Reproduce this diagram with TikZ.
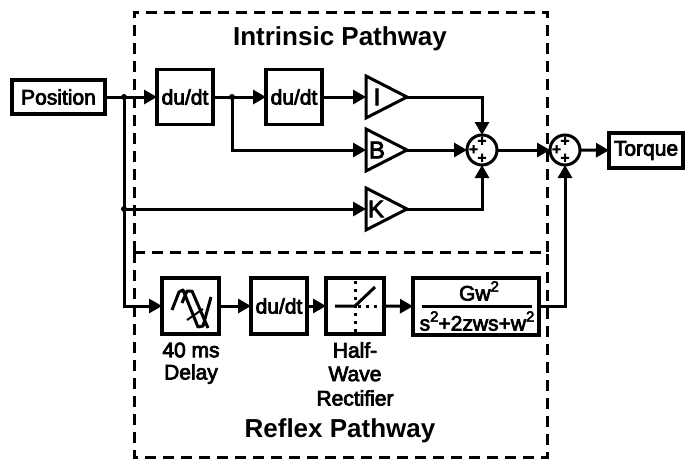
\documentclass[tikz,border=0pt]{standalone}
\usepackage{fontspec}
\setmainfont{Liberation Sans}
\newfontfamily\fbold[FakeBold=3.5]{Liberation Sans}
\newfontfamily\plusf[FakeBold=6]{Liberation Sans}
\usetikzlibrary{arrows.meta}
\newcommand{\txtA}{\fontsize{21}{24}\selectfont\fbold}
\newcommand{\txtC}{\fontsize{24}{24}\selectfont\fbold}
\newcommand{\txtB}{\fontsize{26}{30}\selectfont\bfseries}
\newcommand{\suptwo}{\raisebox{.42em}{\fontsize{15}{15}\selectfont 2}}
\tikzset{
  blockbox/.style={draw=black,line width=3.2pt,fill=white,inner sep=0pt,outer sep=0pt,font=\txtA,align=center},
  wire/.style={draw=black,line width=3pt,-{Triangle[length=13pt,width=14pt]}},
  plainwire/.style={draw=black,line width=3pt},
  gaintri/.style={draw=black,line width=3pt,fill=white,line join=miter},
  dashbox/.style={draw=black,line width=3pt,dash pattern=on 11pt off 7pt},
  sumnode/.style={circle,draw=black,line width=3pt,fill=white,minimum size=30pt,inner sep=0pt,outer sep=0pt},
  lbl/.style={font=\txtA,inner sep=0pt,align=center},
  glbl/.style={font=\txtC,inner sep=0pt},
  title/.style={font=\txtB,inner sep=0pt},
  plus/.style={font=\fontsize{15}{15}\selectfont\plusf,inner sep=0pt},
  jdot/.style={circle,fill=black,minimum size=6pt,inner sep=0pt}
}
\begin{document}
\begin{tikzpicture}[x=1pt,y=-1pt]
\useasboundingbox (0,0) rectangle (690,458);
% dashed regions
\draw[dashbox] (134,252) -- (134,12) -- (547,12) -- (547,252);
\draw[dashbox] (134,252) -- (547,252);
\draw[dashbox] (134,252) -- (134,457) -- (547,457) -- (547,252);
\node[title] (tintr) at (340,39) {Intrinsic Pathway};
\node[title] (trefl) at (340,431) {Reflex Pathway};
% blocks
\node[blockbox,minimum width=93pt,minimum height=34pt] (pos) at (58.5,97) {Position};
\node[blockbox,minimum width=56pt,minimum height=55pt] (d1) at (185,97) {du/dt};
\node[blockbox,minimum width=56pt,minimum height=55pt] (d2) at (294,97) {du/dt};
\node[blockbox,minimum width=74pt,minimum height=35pt] (tq) at (646,150.5) {Torque};
\node[blockbox,minimum width=57pt,minimum height=56pt] (delay) at (190.5,306) {};
\node[blockbox,minimum width=56pt,minimum height=56pt] (d3) at (279,306) {du/dt};
\node[blockbox,minimum width=58pt,minimum height=56pt] (rect) at (355,306) {};
\node[blockbox,minimum width=126pt,minimum height=57pt] (gain) at (476,306.5) {};
% gain triangles
\coordinate (iin) at (366,97); \coordinate (iout) at (407,97);
\coordinate (bin) at (366,150); \coordinate (bout) at (407,150);
\coordinate (kin) at (366,209); \coordinate (kout) at (407,209);
\draw[gaintri] (366,76) -- (iout) -- (366,118) -- cycle;
\draw[gaintri] (366,129) -- (bout) -- (366,171) -- cycle;
\draw[gaintri] (366,188) -- (kout) -- (366,230) -- cycle;
\node[glbl] (il) at (377,97) {I};
\node[glbl] (bl) at (377,150) {B};
\node[glbl] (kl) at (376,209) {K};
% summers
\node[sumnode] (s1) at (482,150) {};
\node[sumnode] (s2) at (565,150) {};
\node[plus] (p1a) at (482,141.5) {+};
\node[plus] (p1b) at (473.5,150) {+};
\node[plus] (p1c) at (482,158.5) {+};
\node[plus] (p2a) at (565,141.5) {+};
\node[plus] (p2b) at (556.5,150) {+};
\node[plus] (p2c) at (565,158.5) {+};
% labels
\node[lbl] (l40) at (191,350) {40 ms};
\node[lbl] (ldl) at (191,374) {Delay};
\node[lbl] (lh) at (355,350) {Half-};
\node[lbl] (lw) at (355,374) {Wave};
\node[lbl] (lr) at (355,398) {Rectifier};
% fraction
\coordinate (fa) at (422,306); \coordinate (fb) at (532,306);
\draw[plainwire] (fa) -- (fb);
\node[lbl] (gnum) at (479,291) {Gw\suptwo};
\node[lbl] (gden) at (477,321) {s\suptwo+2zws+w\suptwo};
% delay icon
\draw[black,line width=3pt,line join=round] (172,310) -- (179,292) -- (183,290) -- (198,327) -- (203,326) -- (211,297);
\draw[black,line width=3pt,line join=round] (182,303) -- (187,291) -- (192,291) -- (208,328);
\draw[black,line width=2pt] (187,320) -- (203,309);
% rectifier icon
\draw[black,line width=3pt,dash pattern=on 3pt off 5pt] (355,281) -- (355,333);
\draw[black,line width=3pt,dash pattern=on 3pt off 5pt] (358,306) -- (378,306);
\draw[black,line width=3pt] (335,306) -- (355,306) -- (375,287);
% junctions
\coordinate (jp) at (124,97);
\coordinate (jk) at (124,209);
\coordinate (jd) at (232,97);
\coordinate (jlow) at (124,306);
\coordinate (jbr) at (232,150);
\coordinate (c1) at (482,97);
\coordinate (c2) at (482,209);
\coordinate (c3) at (565,306);
% connectors
\draw[wire] (pos) -- (d1);
\draw[wire] (d1) -- (d2);
\draw[wire] (d2) -- (iin);
\draw[wire] (jd) -- (jbr) -- (bin);
\draw[wire] (jk) -- (kin);
\draw[wire] (jp) -- (jlow) -- (delay);
\draw[wire] (delay) -- (d3);
\draw[wire] (d3) -- (rect);
\draw[wire] (rect) -- (gain);
\draw[wire] (iout) -- (c1) -- (s1);
\draw[wire] (bout) -- (s1);
\draw[wire] (kout) -- (c2) -- (s1);
\draw[wire] (s1) -- (s2);
\draw[wire] (gain.east |- c3) -- (c3) -- (s2);
\draw[wire] (s2) -- (tq);
\node[jdot] (dp) at (jp) {};
\node[jdot] (dk) at (jk) {};
\node[jdot] (dd) at (jd) {};
\end{tikzpicture}
\end{document}
